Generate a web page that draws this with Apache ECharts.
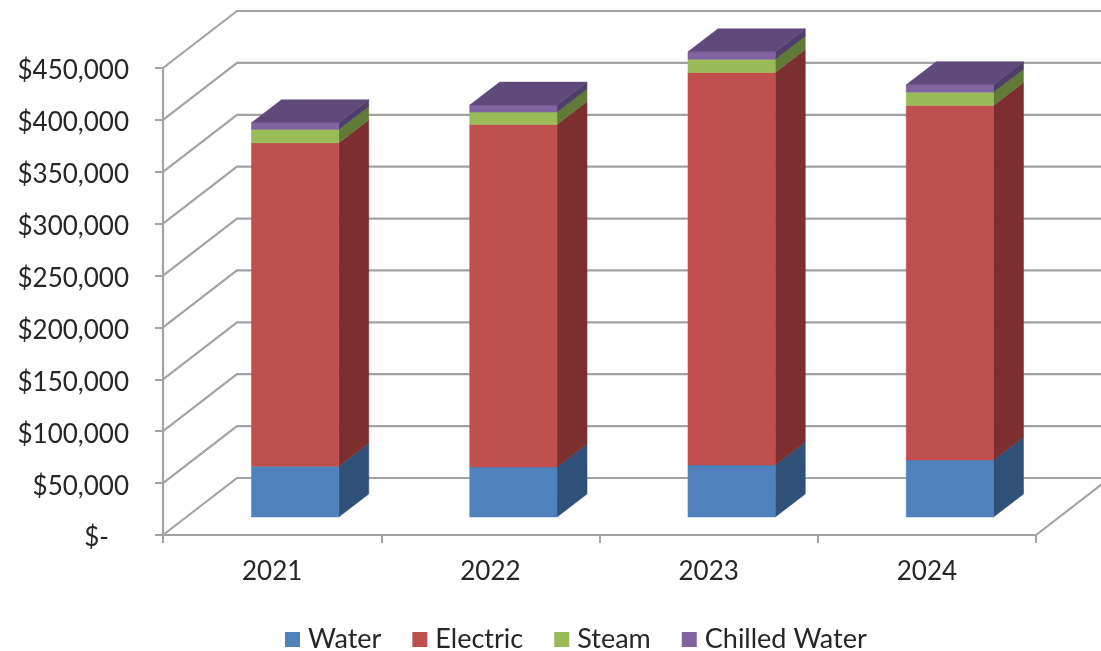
<!DOCTYPE html>
<html>
<head>
<meta charset="utf-8">
<style>html,body{margin:0;padding:0;background:#fff}#chart{width:1101px;height:651px}</style>
<script src="https://cdn.jsdelivr.net/npm/echarts@6/dist/echarts.min.js"></script>
</head>
<body>
<div id="chart"></div>
<script>
// Annual utility cost by type, stacked per year
const years = ['2021', '2022', '2023', '2024'];
const water = [49000, 48200, 50100, 54900];
const electric = [311500, 329900, 378300, 341700];
const steam = [13000, 12100, 12600, 12800];
const chilledWater = [6400, 6700, 7300, 7100];
const gridValues = [0, 50000, 100000, 150000, 200000, 250000, 300000, 350000, 400000, 450000];

const FONT = 'Lato';
const GRID_COLOR = '#a3a3a3';
const TEXT_COLOR = '#262626';

// Oblique projection: depth of the walls, and the plane and depth of the bars
const WALL_DX = 74, WALL_DY = -57;
const BAR_SHIFT_DX = 23, BAR_SHIFT_DY = -18;
const BAR_DX = 30, BAR_DY = -23;
const BAR_WIDTH_RATIO = 0.4;

const layers = [
  { name: 'Water', values: water, front: '#4f81bd', side: '#2f5178' },
  { name: 'Electric', values: electric, front: '#c0504d', side: '#7c2f2e' },
  { name: 'Steam', values: steam, front: '#9bbb59', side: '#627a37' },
  { name: 'Chilled Water', values: chilledWater, front: '#8064a2', side: '#4f3e69', top: '#604a7b' }
];

const poly = (points, fill) => ({
  type: 'polygon',
  shape: { points },
  style: { fill, stroke: fill, lineWidth: 0.5 }
});

// One segment of a stacked box: front face, side face and, on the last layer, the lid
function renderSegment(layerIndex) {
  return function (params, api) {
    const idx = api.value(0);
    const layer = layers[layerIndex];
    let base = 0;
    for (let i = 0; i < layerIndex; i++) base += layers[i].values[idx];
    const topValue = base + api.value(1);
    const band = api.size([1, 0])[0];
    const half = band * BAR_WIDTH_RATIO / 2;
    const b = api.coord([idx, base]);
    const t = api.coord([idx, topValue]);
    const x1 = b[0] + BAR_SHIFT_DX - half;
    const x2 = b[0] + BAR_SHIFT_DX + half;
    const yb = b[1] + BAR_SHIFT_DY;
    const yt = t[1] + BAR_SHIFT_DY;
    const children = [
      poly([[x2, yb], [x2, yt], [x2 + BAR_DX, yt + BAR_DY], [x2 + BAR_DX, yb + BAR_DY]], layer.side),
      poly([[x1, yb], [x2, yb], [x2, yt], [x1, yt]], layer.front)
    ];
    if (layer.top) {
      children.push(poly([[x1, yt], [x2, yt], [x2 + BAR_DX, yt + BAR_DY], [x1 + BAR_DX, yt + BAR_DY]], layer.top));
    }
    return { type: 'group', children };
  };
}

// Side wall and back wall gridline for one axis value
function renderWallLine(params, api) {
  const value = api.value(0);
  const p = api.coord([0, value]);
  const size = api.size([1, 0])[0];
  const x0 = p[0] - size / 2;
  const xEnd = x0 + size * years.length;
  const style = { stroke: GRID_COLOR, lineWidth: 2.2, fill: 'none' };
  const children = [{
    type: 'polyline',
    shape: { points: [[x0, p[1]], [x0 + WALL_DX, p[1] + WALL_DY], [xEnd + WALL_DX, p[1] + WALL_DY]] },
    style
  }];
  if (value === 0) {
    children.push({
      type: 'line',
      shape: { x1: xEnd, y1: p[1], x2: xEnd + WALL_DX, y2: p[1] + WALL_DY },
      style
    });
  }
  return { type: 'group', children };
}

const chart = echarts.init(document.getElementById('chart'), null, { renderer: 'canvas' });
chart.setOption({
  animation: false,
  backgroundColor: '#ffffff',
  textStyle: { fontFamily: FONT },
  grid: { left: 163, right: 65, top: 68, bottom: 116 },
  legend: {
    data: layers.map(l => l.name),
    left: 280,
    top: 621,
    icon: 'rect',
    itemWidth: 15,
    itemHeight: 15,
    itemGap: 31,
    textStyle: { fontFamily: FONT, fontSize: 27, color: TEXT_COLOR, padding: [0, 0, 0, 3] }
  },
  xAxis: {
    type: 'category',
    data: years,
    boundaryGap: true,
    axisLine: { show: true, lineStyle: { color: GRID_COLOR, width: 2.2 } },
    axisTick: { show: true, length: 8, lineStyle: { color: GRID_COLOR, width: 2 } },
    axisLabel: { fontFamily: FONT, fontSize: 26, color: TEXT_COLOR, margin: 24 }
  },
  yAxis: {
    type: 'value',
    min: 0,
    max: 450000,
    interval: 50000,
    axisLine: { show: true, lineStyle: { color: GRID_COLOR, width: 2.2 } },
    axisTick: { show: true, length: 8, lineStyle: { color: GRID_COLOR, width: 2 } },
    splitLine: { show: false },
    axisLabel: {
      fontFamily: FONT,
      fontSize: 26,
      color: TEXT_COLOR,
      margin: 34,
      verticalAlign: 'top',
      lineHeight: 6,
      formatter: v => v === 0 ? '$-   ' : '$' + v.toLocaleString('en-US')
    }
  },
  series: [
    {
      type: 'custom',
      name: 'walls',
      silent: true,
      z: 1,
      clip: false,
      renderItem: renderWallLine,
      data: gridValues.map(v => [v]),
      encode: { y: 0 }
    }
  ].concat(layers.map((layer, i) => ({
    type: 'custom',
    name: layer.name,
    z: 3,
    clip: false,
    itemStyle: { color: layer.front },
    renderItem: renderSegment(i),
    encode: { x: 0, y: 1 },
    data: layer.values.map((v, idx) => [idx, v])
  })))
});
</script>
</body>
</html>
